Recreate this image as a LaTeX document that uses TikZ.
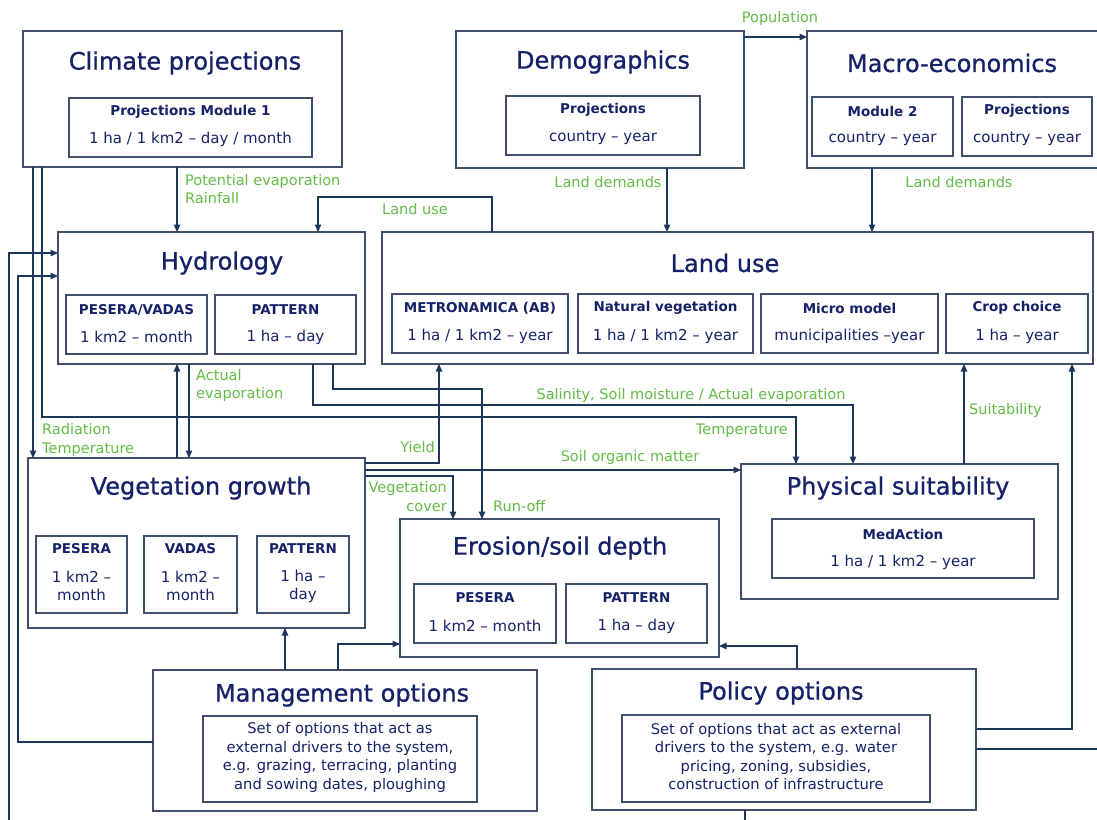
\documentclass[tikz,border=0pt]{standalone}
\usepackage{fontspec}
\setmainfont{DejaVu Sans}
\newfontfamily\ttlfont[FakeBold=0.8]{DejaVu Sans}
\usetikzlibrary{arrows.meta}
\definecolor{boxc}{RGB}{62,80,108}
\definecolor{linec}{RGB}{28,55,90}
\definecolor{txtc}{RGB}{22,34,104}
\definecolor{grn}{RGB}{98,188,70}
\newcommand\mkbox[5]{\node[box, minimum width={(#4)-(#2)}, minimum height={(#5)-(#3)}] (#1) at (#2,#3) {};}
\begin{document}
\begin{tikzpicture}[x=1pt,y=-1pt,
  box/.style={draw=boxc, line width=1.2pt, inner sep=0pt, outer sep=0pt, anchor=north west},
  ttl/.style={text=txtc, font=\ttlfont\fontsize{24}{28}\selectfont, inner sep=0pt},
  bA/.style={text=txtc, font=\fontsize{13.5}{15}\selectfont\bfseries, inner sep=0pt},
  bB/.style={text=txtc, font=\fontsize{15}{18}\selectfont, inner sep=0pt, align=center},
  gl/.style={text=grn, font=\fontsize{14.5}{18.5}\selectfont, inner sep=0pt},
  opt/.style={text=txtc, font=\fontsize{14.7}{18.5}\selectfont, align=center, inner sep=0pt},
  arr/.style={draw=linec, line width=1.2pt, -{Triangle[length=7.5pt,width=6.5pt]}},
  ln/.style={draw=linec, line width=1.2pt},
]
\fill[white] (0,0) rectangle (1097,819);
\useasboundingbox (0,0) rectangle (1097,819);

% ---------- boxes ----------
\mkbox{clim}{23}{31}{342}{167}
\mkbox{climI}{69}{98}{312}{157}
\mkbox{demo}{456}{31}{744}{168}
\mkbox{demoI}{506}{96}{700}{155}
\mkbox{macro}{807}{31}{1100}{168}
\mkbox{macI}{812}{97}{953}{156}
\mkbox{macII}{962}{97}{1092}{156}
\mkbox{hyd}{58}{232}{365}{364}
\mkbox{hydI}{66}{295}{207}{354}
\mkbox{hydII}{215}{295}{356}{354}
\mkbox{lu}{382}{232}{1093}{364}
\mkbox{luI}{392}{294}{568}{353}
\mkbox{luII}{578}{294}{753}{353}
\mkbox{luIII}{761}{294}{938}{353}
\mkbox{luIV}{946}{294}{1088}{353}
\mkbox{veg}{28}{458}{365}{628}
\mkbox{vegI}{36}{536}{127}{613}
\mkbox{vegII}{144}{536}{237}{613}
\mkbox{vegIII}{257}{536}{349}{613}
\mkbox{ero}{400}{519}{719}{657}
\mkbox{eroI}{414}{584}{556}{643}
\mkbox{eroII}{566}{584}{707}{643}
\mkbox{phys}{741}{464}{1058}{599}
\mkbox{physI}{772}{519}{1034}{578}
\mkbox{mgmt}{153}{670}{537}{811}
\mkbox{mgmtI}{203}{716}{477}{802}
\mkbox{pol}{592}{669}{976}{810}
\mkbox{polI}{622}{715}{930}{802}

% ---------- titles ----------
\node[ttl] (climT) at (185,63) {Climate projections};
\node[ttl] (demoT) at (603,62) {Demographics};
\node[ttl] (macroT) at (952,63) {Macro-economics};
\node[ttl] (hydT) at (222,263) {Hydrology};
\node[ttl] (luT) at (725,263) {Land use};
\node[ttl] (vegT) at (201,488) {Vegetation growth};
\node[ttl] (eroT) at (560,548) {Erosion/soil depth};
\node[ttl] (physT) at (898,488) {Physical suitability};
\node[ttl] (mgmtT) at (342,695) {Management options};
\node[ttl] (polT) at (781,693) {Policy options};

% ---------- inner texts ----------
\node[bA] (climA) at (190.5,112) {Projections Module 1};
\node[bB] (climB) at (190.5,139) {1 ha / 1 km2 – day / month};
\node[bA] (demoA) at (603,110) {Projections};
\node[bB] (demoB) at (603,138) {country – year};
\node[bA] (macA) at (882.5,111) {Module 2};
\node[bB] (macB) at (882.5,139) {country – year};
\node[bA] (macC) at (1027,111) {Projections};
\node[bB] (macD) at (1027,139) {country – year};
\node[bA] (hydA) at (136.5,310) {PESERA/VADAS};
\node[bB] (hydB) at (136.5,337) {1 km2 – month};
\node[bA] (hydC) at (285.5,310) {PATTERN};
\node[bB] (hydD) at (285.5,337) {1 ha – day};
\node[bA] (luA) at (480,308) {METRONAMICA (AB)};
\node[bB] (luB) at (480,336) {1 ha / 1 km2 – year};
\node[bA] (luC) at (665.5,308) {Natural vegetation};
\node[bB] (luD) at (665.5,336) {1 ha / 1 km2 – year};
\node[bA] (luE) at (849.5,308) {Micro model};
\node[bB] (luF) at (849.5,336) {municipalities –year};
\node[bA] (luG) at (1017,308) {Crop choice};
\node[bB] (luH) at (1017,336) {1 ha – year};
\node[bA] (vegA) at (81.5,549) {PESERA};
\node[bB] (vegB) at (81.5,586) {1 km2 –\\month};
\node[bA] (vegC) at (190.5,549) {VADAS};
\node[bB] (vegD) at (190.5,586) {1 km2 –\\month};
\node[bA] (vegE) at (303,549) {PATTERN};
\node[bB] (vegF) at (303,586) {1 ha –\\day};
\node[bA] (eroA) at (485,598) {PESERA};
\node[bB] (eroB) at (485,626) {1 km2 – month};
\node[bA] (eroC) at (636.5,598) {PATTERN};
\node[bB] (eroD) at (636.5,626) {1 ha – day};
\node[bA] (physA) at (903,534) {MedAction};
\node[bB] (physB) at (903,562) {1 ha / 1 km2 – year};
\node[opt] (mgmtA) at (340,757.5) {Set of options that act as\\external drivers to the system,\\e.g. grazing, terracing, planting\\and sowing dates, ploughing};
\node[opt] (polA) at (776,756.5) {Set of options that act as external\\drivers to the system, e.g. water\\pricing, zoning, subsidies,\\construction of infrastructure};

% ---------- free ends ----------
\coordinate (botL) at (9,825);
\coordinate (botP) at (745,825);
\coordinate (rightE) at (1102,749);

% ---------- connectors ----------
\draw[arr] (clim.south -| 177,0) -- (hyd.north -| 177,0);
\draw[arr] (lu.north -| 492,0) -- (492,197) -- (318,197) -- (hyd.north -| 318,0);
\draw[arr] (demo.east |- 0,37) -- (macro.west |- 0,37);
\draw[arr] (demo.south -| 667,0) -- (lu.north -| 667,0);
\draw[arr] (macro.south -| 872,0) -- (lu.north -| 872,0);
\draw[arr] (clim.south -| 33,0) -- (veg.north -| 33,0);
\draw[arr] (clim.south -| 42,0) -- (42,417) -- (796,417) -- (phys.north -| 796,0);
\draw[arr] (botL) -- (9,253) -- (hyd.west |- 0,253);
\draw[ln] (pol.south -| 745,0) -- (botP);
\draw[arr] (mgmt.west |- 0,742) -- (18,742) -- (18,276) -- (hyd.west |- 0,276);
\draw[arr] (veg.north -| 177,0) -- (hyd.south -| 177,0);
\draw[arr] (hyd.south -| 189,0) -- (veg.north -| 189,0);
\draw[arr] (hyd.south -| 313,0) -- (313,405) -- (853,405) -- (phys.north -| 853,0);
\draw[arr] (hyd.south -| 333,0) -- (333,389) -- (482,389) -- (ero.north -| 482,0);
\draw[arr] (veg.east |- 0,463) -- (439,463) -- (lu.south -| 439,0);
\draw[arr] (veg.east |- 0,470) -- (phys.west |- 0,470);
\draw[arr] (veg.east |- 0,476) -- (453,476) -- (ero.north -| 453,0);
\draw[arr] (phys.north -| 964,0) -- (lu.south -| 964,0);
\draw[arr] (pol.east |- 0,729) -- (1072,729) -- (lu.south -| 1072,0);
\draw[ln] (pol.east |- 0,749) -- (rightE);
\draw[arr] (pol.north -| 797,0) -- (797,646) -- (ero.east |- 0,646);
\draw[arr] (mgmt.north -| 285,0) -- (veg.south -| 285,0);
\draw[arr] (mgmt.north -| 338,0) -- (338,644) -- (ero.west |- 0,644);

% ---------- connector labels ----------
\node[gl] (lPop) at (780,18) {Population};
\node[gl, anchor=west, align=left] (lPot) at (185,189) {Potential evaporation\\Rainfall};
\node[gl] (lLu) at (415,209) {Land use};
\node[gl] (lLd1) at (608,182) {Land demands};
\node[gl] (lLd2) at (959,182) {Land demands};
\node[gl, anchor=west, align=left] (lAct) at (196,385.5) {Actual\\evaporation};
\node[gl, anchor=west, align=left] (lRad) at (42,440) {Radiation\\Temperature};
\node[gl, anchor=east] (lYield) at (435,447) {Yield};
\node[gl] (lSal) at (691,395) {Salinity, Soil moisture / Actual evaporation};
\node[gl, anchor=east] (lTemp) at (788,431) {Temperature};
\node[gl] (lSom) at (630,457) {Soil organic matter};
\node[gl, anchor=west] (lSuit) at (969,410) {Suitability};
\node[gl, anchor=east, align=right] (lVeg) at (447,496.5) {Vegetation\\cover};
\node[gl, anchor=west] (lRun) at (493,506) {Run-off};
\end{tikzpicture}
\end{document}
